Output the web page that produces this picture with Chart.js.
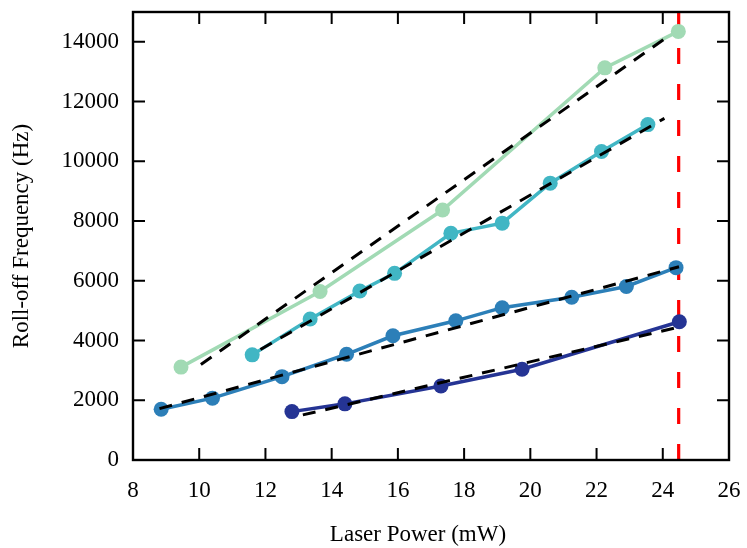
<!DOCTYPE html>
<html>
<head>
<meta charset="utf-8">
<title>Roll-off Frequency vs Laser Power</title>
<script src="https://cdn.jsdelivr.net/npm/chart.js@4.4.1/dist/chart.umd.min.js"></script>
<style>
    html, body { margin: 0; padding: 0; background: #fff; }
    #wrap { width: 747px; height: 548px; }
</style>
</head>
<body>
<div id="wrap"><canvas id="rolloffChart" width="747" height="548"></canvas></div>
<script>
// Measured series (laser power in mW, roll-off frequency in Hz)
const power1 = [9.45, 13.65, 17.35, 22.25, 24.47];
const freq1  = [3110, 5640, 8370, 13130, 14350];

const power2 = [11.6, 13.35, 14.85, 15.9, 17.6, 19.15, 20.6, 22.15, 23.55];
const freq2  = [3520, 4720, 5660, 6250, 7590, 7930, 9270, 10330, 11230];

const power3 = [8.85, 10.4, 12.5, 14.45, 15.85, 17.75, 19.15, 21.25, 22.9, 24.4];
const freq3  = [1700, 2070, 2790, 3540, 4160, 4660, 5100, 5450, 5810, 6440];

const power4 = [12.8, 14.4, 17.3, 19.75, 24.5];
const freq4  = [1620, 1880, 2480, 3040, 4630];

// Linear fits (end points)
const fitPower1 = [10.05, 24.25];
const fitFreq1  = [3200, 14250];
const fitPower2 = [11.85, 24.05];
const fitFreq2  = [3700, 11440];
const fitPower3 = [8.8, 24.49];
const fitFreq3  = [1720, 6470];
const fitPower4 = [13.13, 24.45];
const fitFreq4  = [1510, 4440];

// Threshold marker
const limitPower = [24.48, 24.48];
const limitFreq  = [15000, 0];

// Axis ticks
const xTicks = [8, 10, 12, 14, 16, 18, 20, 22, 24, 26];
const yTicks = [0, 2000, 4000, 6000, 8000, 10000, 12000, 14000];

const colors = ['#a1dab4', '#41b6c4', '#2c7fb8', '#253494'];

function toPoints(xs, ys) {
    return xs.map((x, i) => ({ x: x, y: ys[i] }));
}

function seriesDataset(xs, ys, color) {
    return {
        data: toPoints(xs, ys),
        borderColor: color,
        backgroundColor: color,
        borderWidth: 3.5,
        pointRadius: 7.5,
        pointBorderWidth: 0,
        pointBackgroundColor: color,
        order: 2
    };
}

function fitDataset(xs, ys) {
    return {
        data: toPoints(xs, ys),
        borderColor: '#000',
        borderWidth: 3,
        borderDash: [13, 10],
        pointRadius: 0,
        order: 1
    };
}

// Box frame, inward ticks on all sides, x title
const framePlugin = {
    id: 'frame',
    afterDraw(chart) {
        const ctx = chart.ctx;
        const area = chart.chartArea;
        const xs = chart.scales.x;
        const ys = chart.scales.y;
        const tick = 12;
        ctx.save();
        ctx.strokeStyle = '#000';
        ctx.lineWidth = 2;
        ctx.beginPath();
        xTicks.forEach(v => {
            const px = xs.getPixelForValue(v);
            if (px <= area.left + 1 || px >= area.right - 1) return;
            ctx.moveTo(px, area.bottom);
            ctx.lineTo(px, area.bottom - tick);
            ctx.moveTo(px, area.top);
            ctx.lineTo(px, area.top + tick);
        });
        yTicks.forEach(v => {
            const py = ys.getPixelForValue(v);
            if (py >= area.bottom - 1) return;
            ctx.moveTo(area.left, py);
            ctx.lineTo(area.left + tick, py);
            ctx.moveTo(area.right, py);
            ctx.lineTo(area.right - tick, py);
        });
        ctx.stroke();
        ctx.lineWidth = 2.4;
        ctx.strokeRect(area.left, area.top, area.right - area.left, area.bottom - area.top);

        ctx.fillStyle = '#000';
        ctx.font = "23px 'Liberation Serif', serif";
        ctx.textAlign = 'center';
        ctx.textBaseline = 'middle';
        ctx.fillText('Laser Power (mW)', (area.left + area.right) / 2 - 13, 535);
        ctx.restore();
    }
};

Chart.defaults.font.family = "'Liberation Serif', serif";
Chart.defaults.font.size = 23;
Chart.defaults.color = '#000';

const ctx = document.getElementById('rolloffChart').getContext('2d');
const rolloffChart = new Chart(ctx, {
    type: 'line',
    data: {
        datasets: [
            {
                data: toPoints(limitPower, limitFreq),
                borderColor: '#ff0000',
                borderWidth: 3.2,
                borderDash: [16, 20],
                pointRadius: 0,
                order: 3
            },
            seriesDataset(power1, freq1, colors[0]),
            seriesDataset(power2, freq2, colors[1]),
            seriesDataset(power3, freq3, colors[2]),
            seriesDataset(power4, freq4, colors[3]),
            fitDataset(fitPower1, fitFreq1),
            fitDataset(fitPower2, fitFreq2),
            fitDataset(fitPower3, fitFreq3),
            fitDataset(fitPower4, fitFreq4)
        ]
    },
    options: {
        responsive: false,
        animation: false,
        devicePixelRatio: 1,
        layout: { padding: { top: 12, right: 18, left: 0, bottom: 0 } },
        plugins: {
            legend: { display: false },
            tooltip: { enabled: false }
        },
        scales: {
            x: {
                type: 'linear',
                min: 8,
                max: 26,
                grid: { display: false, drawTicks: false },
                border: { display: false },
                ticks: {
                    padding: 17,
                    maxRotation: 0,
                    callback: v => String(v)
                },
                afterBuildTicks(scale) { scale.ticks = xTicks.map(v => ({ value: v })); },
                afterFit(scale) {
                    scale.height = 88;
                    scale.paddingLeft = 0;
                    scale.paddingRight = 0;
                }
            },
            y: {
                type: 'linear',
                min: 0,
                max: 15000,
                grid: { display: false, drawTicks: false },
                border: { display: false },
                ticks: {
                    padding: 14,
                    callback: v => String(v)
                },
                afterBuildTicks(scale) { scale.ticks = yTicks.map(v => ({ value: v })); },
                title: {
                    display: true,
                    text: 'Roll-off Frequency (Hz)',
                    padding: { top: 8, bottom: 0 }
                },
                afterFit(scale) {
                    scale.width = 133;
                    scale.paddingTop = 0;
                    scale.paddingBottom = 0;
                }
            }
        }
    },
    plugins: [framePlugin]
});
</script>
</body>
</html>
